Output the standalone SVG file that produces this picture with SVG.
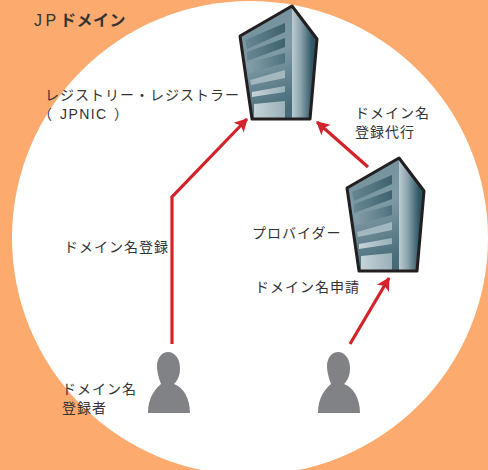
<svg xmlns="http://www.w3.org/2000/svg" width="488" height="470" viewBox="0 0 488 470">
<defs>
<linearGradient id="front" x1="0" y1="0" x2="0.3" y2="1"><stop offset="0" stop-color="#6f8d99"/><stop offset="0.5" stop-color="#7f9aa5"/><stop offset="1" stop-color="#466a78"/></linearGradient>
<linearGradient id="side" x1="0" y1="0" x2="1" y2="0"><stop offset="0" stop-color="#bccbd1"/><stop offset="0.35" stop-color="#8ba3ad"/><stop offset="0.8" stop-color="#2f5765"/><stop offset="1" stop-color="#2b5260"/></linearGradient>
<linearGradient id="band" x1="0" y1="0" x2="1" y2="0"><stop offset="0" stop-color="#678793"/><stop offset="1" stop-color="#3f626f"/></linearGradient>
<linearGradient id="band3" x1="0" y1="0" x2="1" y2="0"><stop offset="0" stop-color="#86a0aa"/><stop offset="1" stop-color="#4f7280"/></linearGradient>
<linearGradient id="band2" x1="0" y1="0" x2="1" y2="0"><stop offset="0" stop-color="#c6d3d8"/><stop offset="1" stop-color="#9ab0b9"/></linearGradient>
<marker id="arrow" markerUnits="userSpaceOnUse" markerWidth="16" markerHeight="16" refX="13" refY="7" orient="auto"><path d="M1 0L14 7L1 14L4 7Z" fill="#d2232a"/></marker>
<g id="bld">
<path d="M0 36L52 6L77 39L70 119L12 119Z" fill="url(#front)"/>
<path d="M52 6L77 39L70 119L52 119Z" fill="url(#side)"/>
<path d="M5 40L45 23V32L7 49Z" fill="url(#band)"/>
<path d="M7 52L45 38V47L7 61Z" fill="url(#band)"/>
<path d="M7 63L45 53V63L9 73Z" fill="url(#band3)"/>
<path d="M10 80L45 70V78L11 85Z" fill="#a3b7bf"/>
<path d="M12 92L45 86V92L12 97Z" fill="url(#band2)"/>
<path d="M14 104L45 101V119H14Z" fill="url(#band2)"/>
<path d="M0 36L52 6L77 39L70 119L12 119Z" fill="none" stroke="#231f20" stroke-width="3" stroke-linejoin="round"/>
</g>
<g id="person">
<path d="M-21 51C-21 35 -13 26 -8 22C-11 14 -12 8 -12 4C-12 -4 -7 -10 -1 -10C6 -10 11 -3 11 6C11 13 9 18 5 22C14 25 21 36 21 51Z" fill="#808285"/>
</g>
</defs>
<style>
.t{font-family:"Liberation Sans","Noto Sans CJK JP",sans-serif;font-size:14px;letter-spacing:1px;fill:#333}
.c{fill:none;stroke:#d2232a;stroke-width:3.2;marker-end:url(#arrow)}
</style>
<rect width="488" height="470" fill="#fcaa6d"/>
<ellipse cx="250" cy="238" rx="238" ry="237" fill="#fff"/>
<g id="connectors">
<path class="c" d="M172 344V197L247 119"/>
<path class="c" d="M368 167L317 122"/>
<path class="c" d="M350 344L389 278"/>
</g>
<g id="registry"><use href="#bld" x="240" y="0"/>
<text class="t" x="45" y="100">レジストリー・レジストラー</text>
<text class="t" x="38" y="119">（<tspan x="60" style="letter-spacing:1.4px">JPNIC</tspan><tspan x="114">）</tspan></text></g>
<g id="provider"><use href="#bld" x="347" y="152"/>
<text class="t" x="252" y="238">プロバイダー</text></g>
<g id="registrant"><use href="#person" x="169" y="362"/>
<text class="t" x="62" y="394">ドメイン名</text>
<text class="t" x="62" y="413">登録者</text></g>
<g id="user"><use href="#person" x="339" y="362"/></g>
<g id="labels">
<text class="t" x="34" y="26" style="font-size:16px;letter-spacing:3.5px">JP<tspan x="60" font-weight="700" style="letter-spacing:.5px">ドメイン</tspan></text>
<text class="t" x="355" y="118">ドメイン名</text>
<text class="t" x="355" y="137">登録代行</text>
<text class="t" x="64" y="252">ドメイン名登録</text>
<text class="t" x="255" y="292">ドメイン名申請</text>
</g>
</svg>
